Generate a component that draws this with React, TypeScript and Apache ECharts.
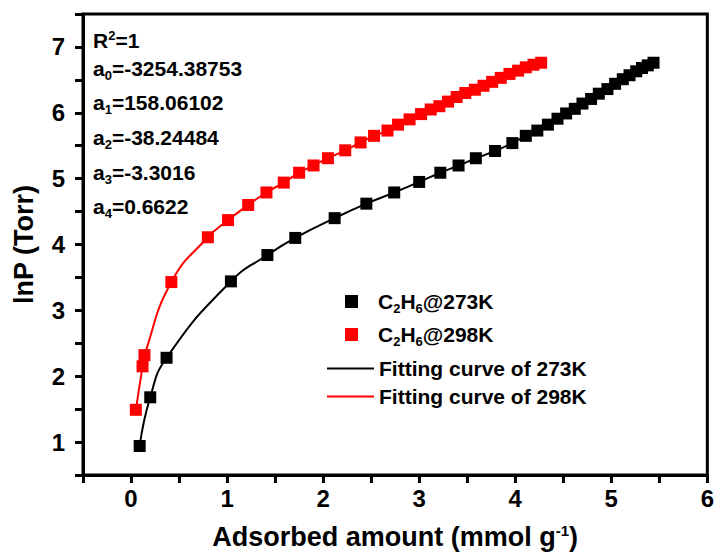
import React, { useEffect, useRef } from "react";
import * as echarts from "echarts";

const x273 = [0.09, 0.2, 0.37, 1.04, 1.42, 1.71, 2.12, 2.45, 2.74, 3.0, 3.22, 3.41, 3.59, 3.79, 3.97, 4.11, 4.23, 4.34, 4.44, 4.53, 4.62, 4.7, 4.79, 4.87, 4.96, 5.04, 5.12, 5.19, 5.26, 5.32, 5.38, 5.44];
const y273 = [0.94, 1.68, 2.28, 3.44, 3.84, 4.1, 4.4, 4.62, 4.79, 4.95, 5.09, 5.2, 5.31, 5.42, 5.54, 5.65, 5.73, 5.82, 5.91, 5.99, 6.06, 6.14, 6.21, 6.29, 6.36, 6.44, 6.51, 6.57, 6.63, 6.68, 6.72, 6.76];
const x298 = [0.05, 0.12, 0.14, 0.42, 0.8, 1.01, 1.22, 1.41, 1.59, 1.75, 1.9, 2.05, 2.23, 2.39, 2.53, 2.67, 2.78, 2.9, 3.02, 3.12, 3.21, 3.3, 3.39, 3.48, 3.58, 3.67, 3.76, 3.85, 3.94, 4.03, 4.11, 4.19, 4.27];
const y298 = [1.49, 2.15, 2.32, 3.43, 4.11, 4.37, 4.6, 4.79, 4.94, 5.09, 5.2, 5.31, 5.43, 5.55, 5.65, 5.73, 5.82, 5.9, 5.98, 6.05, 6.1, 6.17, 6.24, 6.3, 6.35, 6.41, 6.47, 6.53, 6.59, 6.64, 6.69, 6.73, 6.76];

const seriesNames = ["C2H6@273K", "C2H6@298K", "Fitting curve of 273K", "Fitting curve of 298K"];
const fitParams = [
  { label: "0", value: "=-3254.38753" },
  { label: "1", value: "=158.06102" },
  { label: "2", value: "=-38.24484" },
  { label: "3", value: "=-3.3016" },
  { label: "4", value: "=0.6622" },
];
const rSquared = "=1";

const FONT = "'Liberation Sans', Arial, sans-serif";

const pairs = (xs: number[], ys: number[]) => xs.map((x, i) => [x, ys[i]]);
const isInt = (v: number) => Math.abs(v - Math.round(v)) < 1e-6;

export default function App() {
  const ref = useRef<HTMLDivElement>(null);
  useEffect(() => {
    const chart = echarts.init(ref.current!, null, { renderer: "svg" });
    const main = { fontSize: 21, fontWeight: "bold", fontFamily: FONT, color: "#000" };
    const sub = { fontSize: 13, fontWeight: "bold", fontFamily: FONT, color: "#000", padding: [14, 0, 0, 0] };
    const sup = { fontSize: 13, fontWeight: "bold", fontFamily: FONT, color: "#000", padding: [0, 0, 10, 0] };
    const rich = { n: main, s: sub, p: sup };
    const annoTop = [40.7, 68.3, 102.7, 137.7, 172.3, 206.7];
    const graphics: any[] = [
      {
        type: "text",
        x: 93,
        y: annoTop[0],
        style: { text: "{n|R}{p|2}{n|" + rSquared + "}", rich, verticalAlign: "middle", align: "left" },
      },
      ...fitParams.map((p, i) => ({
        type: "text",
        x: 93,
        y: annoTop[i + 1],
        style: { text: "{n|a}{s|" + p.label + "}{n|" + p.value + "}", rich, verticalAlign: "middle", align: "left" },
      })),
    ];
    const legendFmt = (name: string) => {
      const m = name.match(/^C2H6(.*)$/);
      if (m) return "{n|C}{s|2}{n|H}{s|6}{n|" + m[1] + "}";
      return "{n|" + name + "}";
    };
    chart.setOption({
      animation: false,
      backgroundColor: "#fff",
      grid: { left: 83, right: 8, top: 14, bottom: 77, show: true, borderColor: "#000", borderWidth: 3 },
      graphic: graphics,
      legend: [
        {
          data: [
            { name: seriesNames[0], icon: "rect" },
            { name: seriesNames[1], icon: "rect" },
          ],
          orient: "vertical",
          left: 340,
          top: 286,
          itemWidth: 13,
          itemHeight: 13,
          itemGap: 9,
          formatter: legendFmt,
          textStyle: { padding: [0, 0, 0, 15], rich },
        },
        {
          data: [
            { name: seriesNames[2], icon: "rect" },
            { name: seriesNames[3], icon: "rect" },
          ],
          orient: "vertical",
          left: 322,
          top: 353,
          itemWidth: 47,
          itemHeight: 2,
          itemGap: 7,
          formatter: legendFmt,
          textStyle: { padding: [0, 0, 0, 0], rich },
        },
      ],
      xAxis: {
        type: "value",
        min: -0.5,
        max: 6,
        interval: 0.5,
        splitLine: { show: false },
        axisLine: { onZero: false, lineStyle: { color: "#000", width: 3 } },
        axisTick: { length: 8, lineStyle: { color: "#000", width: 3 } },
        axisLabel: {
          formatter: (v: number) => (isInt(v) ? String(Math.round(v)) : ""),
          fontSize: 24,
          fontWeight: "bold",
          fontFamily: FONT,
          color: "#000",
          margin: 11,
        },
        name: "{n|Adsorbed amount (mmol g}{p|-1}{n|)}",
        nameLocation: "middle",
        nameGap: 48,
        nameTextStyle: {
          rich: {
            n: { fontSize: 27, fontWeight: "bold", fontFamily: FONT, color: "#000" },
            p: { fontSize: 15, fontWeight: "bold", fontFamily: FONT, color: "#000", padding: [0, 0, 12, 0] },
          },
        },
      },
      yAxis: {
        type: "value",
        min: 0.5,
        max: 7.5,
        interval: 0.5,
        splitLine: { show: false },
        axisLine: { onZero: false, lineStyle: { color: "#000", width: 3 } },
        axisTick: { length: 8, lineStyle: { color: "#000", width: 3 } },
        axisLabel: {
          formatter: (v: number) => (isInt(v) ? String(Math.round(v)) : ""),
          fontSize: 24,
          fontWeight: "bold",
          fontFamily: FONT,
          color: "#000",
          margin: 18,
        },
        name: "lnP (Torr)",
        nameLocation: "middle",
        nameGap: 46,
        nameTextStyle: { fontSize: 27, fontWeight: "bold", fontFamily: FONT, color: "#000" },
      },
      series: [
        {
          name: seriesNames[0],
          type: "scatter",
          symbol: "rect",
          symbolSize: 12,
          itemStyle: { color: "#000", opacity: 1 },
          data: pairs(x273, y273),
          z: 5,
        },
        {
          name: seriesNames[1],
          type: "scatter",
          symbol: "rect",
          symbolSize: 12,
          itemStyle: { color: "#ff0000", opacity: 1 },
          data: pairs(x298, y298),
          z: 5,
        },
        {
          name: seriesNames[2],
          type: "line",
          smooth: 0.5,
          symbol: "none",
          showSymbol: false,
          lineStyle: { color: "#000", width: 2 },
          itemStyle: { color: "#000" },
          data: pairs(x273, y273),
          z: 2,
        },
        {
          name: seriesNames[3],
          type: "line",
          smooth: 0.5,
          symbol: "none",
          showSymbol: false,
          lineStyle: { color: "#ff0000", width: 2 },
          itemStyle: { color: "#ff0000" },
          data: pairs(x298, y298),
          z: 2,
        },
      ],
    });
    return () => chart.dispose();
  }, []);
  return <div ref={ref} style={{ position: "fixed", left: 0, top: 0, width: 717, height: 555 }} />;
}
